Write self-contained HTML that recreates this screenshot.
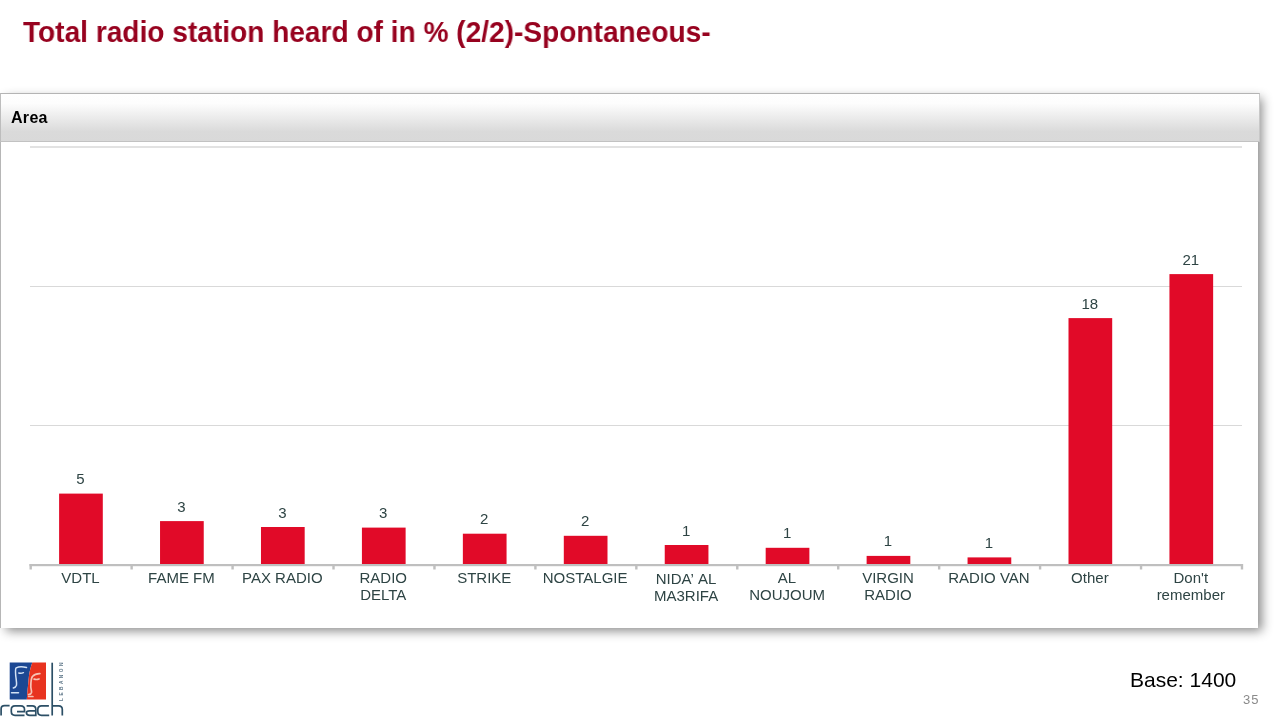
<!DOCTYPE html>
<html>
<head>
<meta charset="utf-8">
<style>
html,body{margin:0;padding:0;}
body{width:1280px;height:720px;overflow:hidden;background:#fff;position:relative;font-family:"Liberation Sans",sans-serif;}
#title{position:absolute;left:23px;top:15px;font-size:29.5px;transform:scaleX(0.952);font-weight:bold;color:#97021f;will-change:transform;white-space:nowrap;line-height:34px;transform-origin:0 0;}
#box{position:absolute;left:0;top:93px;width:1258px;height:535px;background:#fff;box-shadow:5px 4px 10px -1px rgba(0,0,0,0.46);}
#hdr{position:absolute;left:0;top:93px;width:1258px;height:47px;border-top:1px solid #b4b4b4;border-bottom:1px solid #c2c2c2;border-left:1px solid #bdbdbd;border-right:1px solid #c8c8c8;box-sizing:content-box;background:linear-gradient(#fefefe 0%,#fdfdfd 20%,#dadada 80%,#d9d9d9 100%);}
#area{position:absolute;left:11px;top:108px;font-size:16px;letter-spacing:0.3px;font-weight:bold;color:#000;line-height:19px;}
#lb{position:absolute;left:0;top:141px;width:1px;height:487px;background:#b6b6b6;}
svg{position:absolute;left:0;top:0;}
#area,#base,#pg{will-change:transform;}
.dl{font-size:15px;fill:#2e4444;text-anchor:middle;}
.cl{font-size:15px;fill:#2e4444;text-anchor:middle;}
#base{position:absolute;left:1130px;top:667.5px;font-size:21px;color:#000;line-height:24px;white-space:nowrap;}
#pg{position:absolute;left:1243px;top:692px;font-size:13px;letter-spacing:0.9px;color:#8a8a8a;line-height:15px;}
</style>
</head>
<body>
<div id="title">Total radio station heard of in % (2/2)-Spontaneous-</div>
<div id="box"></div>
<div id="lb"></div>
<div id="hdr"></div>
<div id="area">Area</div>
<svg width="1280" height="720" viewBox="0 0 1280 720">
  <g fill="#d9d9d9">
    <rect x="30" y="146" width="1212" height="2" fill="#e2e2e2"/>
    <rect x="30" y="286" width="1212" height="1"/>
    <rect x="30" y="425" width="1212" height="1"/>
  </g>
  <g fill="#e10a28">
    <rect x="59.1" y="493.6" width="43.7" height="70.4"/>
    <rect x="160.04" y="521.1" width="43.7" height="42.9"/>
    <rect x="260.98" y="527" width="43.7" height="37"/>
    <rect x="361.92" y="527.6" width="43.7" height="36.4"/>
    <rect x="462.86" y="533.7" width="43.7" height="30.3"/>
    <rect x="563.8" y="535.8" width="43.7" height="28.2"/>
    <rect x="664.74" y="545" width="43.7" height="19"/>
    <rect x="765.68" y="547.8" width="43.7" height="16.2"/>
    <rect x="866.62" y="555.9" width="43.7" height="8.1"/>
    <rect x="967.56" y="557.4" width="43.7" height="6.6"/>
    <rect x="1068.5" y="318.1" width="43.7" height="245.9"/>
    <rect x="1169.44" y="274.1" width="43.7" height="289.9"/>
  </g>
  <g fill="#bfbfbf">
    <rect x="29.5" y="564" width="1212.3" height="2.2"/>
  </g>
  <g fill="#bfbfbf"><rect x="29.50" y="564" width="2.4" height="5.5"/><rect x="130.44" y="564" width="2.4" height="5.5"/><rect x="231.38" y="564" width="2.4" height="5.5"/><rect x="332.32" y="564" width="2.4" height="5.5"/><rect x="433.26" y="564" width="2.4" height="5.5"/><rect x="534.20" y="564" width="2.4" height="5.5"/><rect x="635.14" y="564" width="2.4" height="5.5"/><rect x="736.08" y="564" width="2.4" height="5.5"/><rect x="837.02" y="564" width="2.4" height="5.5"/><rect x="937.96" y="564" width="2.4" height="5.5"/><rect x="1038.90" y="564" width="2.4" height="5.5"/><rect x="1139.84" y="564" width="2.4" height="5.5"/><rect x="1240.78" y="564" width="2.4" height="5.5"/></g>
  <g class="dl">
    <text x="80.47" y="484.1">5</text>
    <text x="181.41" y="511.6">3</text>
    <text x="282.35" y="517.5">3</text>
    <text x="383.29" y="518.1">3</text>
    <text x="484.23" y="524.2">2</text>
    <text x="585.17" y="526.3">2</text>
    <text x="686.11" y="535.5">1</text>
    <text x="787.05" y="538.3">1</text>
    <text x="887.99" y="546.4">1</text>
    <text x="988.93" y="547.9">1</text>
    <text x="1089.87" y="308.6">18</text>
    <text x="1190.81" y="264.6">21</text>
  </g>
  <g class="cl">
    <text x="80.47" y="582.5">VDTL</text>
    <text x="181.41" y="582.5">FAME FM</text>
    <text x="282.35" y="582.5">PAX RADIO</text>
    <text x="383.29" y="582.5">RADIO</text>
    <text x="383.29" y="599.5">DELTA</text>
    <text x="484.23" y="582.5">STRIKE</text>
    <text x="585.17" y="582.5">NOSTALGIE</text>
    <text x="686.11" y="583.5">NIDA’ <tspan dx="1.5">AL</tspan></text>
    <text x="686.11" y="600.5">MA3RIFA</text>
    <text x="787.05" y="582.5">AL</text>
    <text x="787.05" y="599.5">NOUJOUM</text>
    <text x="887.99" y="582.5">VIRGIN</text>
    <text x="887.99" y="599.5">RADIO</text>
    <text x="988.93" y="582.5">RADIO VAN</text>
    <text x="1089.87" y="582.5">Other</text>
    <text x="1190.81" y="582.5">Don't</text>
    <text x="1190.81" y="599.5">remember</text>
  </g>
</svg>
<svg id="logo" width="70" height="70" viewBox="0 650 70 70" style="left:0;top:650px">
  <path d="M9.7 662.6 H32.3 C30.3 668 29 674 28.6 679.4 C28.2 685 27.2 692 26.8 699.6 H9.7 Z" fill="#1c4893"/>
  <path d="M32.3 662.6 H46 V699.6 H26.8 C27.2 692 28.2 685 28.6 679.4 C29 674 30.3 668 32.3 662.6 Z" fill="#e8331f"/>
  <g fill="none" stroke="#d3e2f5" stroke-width="1.5" stroke-linecap="round">
    <path d="M26.5 667.5 C23 666.6 19 666.4 16.2 667.8 C15 669 15.6 674 15.8 676.3 C16.2 680 16.9 683 16.5 685.2 C15.8 687 14.5 687.8 13.3 688"/>
    <path d="M18.8 673 C20.5 673.6 22 673.4 23.4 672.7"/>
    <path d="M11.5 692.8 H18.5"/>
  </g>
  <g fill="none" stroke="#f7c2b4" stroke-width="1.7" stroke-linecap="round">
    <path d="M39.9 673.6 C37 673.5 34.5 674.2 32.4 676.5 C31.2 678.5 30.8 683 30.8 686.7 C30.9 689 31.8 691 31.5 692.4 C31 694 29.6 694.5 28.6 694.7"/>
    <path d="M34.1 679.1 C35.8 679.7 37.5 679.6 39 679"/>
    <path d="M28.6 696.5 H32.9"/>
  </g>
  <g fill="none" stroke="#2c4f66" stroke-width="1.7" stroke-linecap="butt">
    <path d="M52.2 662.7 V715.5"/>
    <path d="M1.1 715.4 V709 C1.1 706.8 2.4 705.7 4.6 705.7 H9.6"/>
    <path d="M24.5 715.3 H15 C12.5 715.3 11.3 713.8 11.3 711.5 V709.5 C11.3 707 12.6 705.8 15 705.8 H20.8 C23.2 705.8 24.5 707 24.5 709.5 V711.6 H17"/>
    <path d="M26.6 705.8 H32.3 C34.6 705.8 35.8 707 35.8 709.3 V715.4 H29.8 C27.6 715.4 26.4 714.4 26.4 712.8 C26.4 711.2 27.6 710.8 29.6 710.8 H35.8"/>
    <path d="M48.9 705.8 H41.5 C39 705.8 37.8 707.2 37.8 709.6 V711.5 C37.8 713.9 39 715.3 41.5 715.3 H49.2"/>
    <path d="M52.2 705.8 H58.7 C61.2 705.8 62.3 707 62.3 709.5 V715.5"/>
  </g>
  <text x="0" y="0" transform="translate(62.8 701) rotate(-90)" font-size="4.8" font-weight="bold" letter-spacing="2.45" fill="#60788a" font-family="Liberation Sans">LEBANON</text>
</svg>
<div id="base">Base: 1400</div>
<div id="pg">35</div>
</body>
</html>
